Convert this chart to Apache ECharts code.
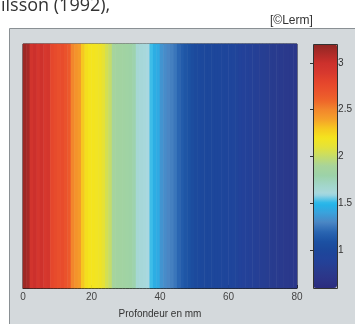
<!DOCTYPE html>
<html>
<head>
<meta charset="utf-8">
<script src="https://cdn.jsdelivr.net/npm/echarts@6/dist/echarts.min.js"></script>
<style>
  html, body { margin: 0; padding: 0; background: #fff; }
  #chart { width: 355px; height: 324px; }
</style>
</head>
<body>
<div id="chart"></div>
<script>
// value per 1 mm of depth (0 -> 79 mm)
var profile = [
    3.15, 3.12, 2.95, 3.0, 2.92, 2.98, 2.9, 2.93, 2.78, 2.75,
    2.72, 2.74, 2.7, 2.66, 2.5, 2.45, 2.42, 2.3, 2.22, 2.2,
    2.2, 2.18, 2.17, 2.12, 2.05, 2.0, 1.88, 1.86, 1.85, 1.84,
    1.83, 1.82, 1.78, 1.65, 1.63, 1.62, 1.6, 1.52, 1.46, 1.44,
    1.35, 1.32, 1.3, 1.28, 1.25, 1.2, 1.15, 1.12, 1.1, 1.05,
    1.03, 1.02, 1.01, 1.0, 1.0, 0.99, 0.98, 0.98, 0.97, 0.96,
    0.96, 0.95, 0.94, 0.9, 0.89, 0.88, 0.87, 0.86, 0.85, 0.84,
    0.83, 0.82, 0.8, 0.79, 0.78, 0.77, 0.76, 0.75, 0.74, 0.73
];
var depthBins = profile.map(function (v, i) { return String(i); });
var depthTicks = [0, 20, 40, 60, 80];
var barTicks = [1, 1.5, 2, 2.5, 3];
var barColors = [
    '#2b2c7e', '#2c3588', '#283c8f', '#22429a', '#1c479b', '#1c52a3',
    '#2a66b2', '#4a86c4', '#3aa2dc', '#22b6ea', '#a8d8e0', '#a2d6c8',
    '#9cd2a8', '#a8d49a', '#c4dc6a', '#e4e23a', '#f4e41e', '#f6c820',
    '#f5a02a', '#f2862c', '#ee642a', '#ea522c', '#e4442c', '#d6382e',
    '#cc302c', '#ad2b28', '#8e2622'
];

var chart = echarts.init(document.getElementById('chart'));

var option = {
    animation: false,
    backgroundColor: '#fff',
    graphic: [
        {type: 'rect', z: -10, shape: {x: 9.5, y: 28.5, width: 360, height: 310},
            style: {fill: '#d4d9dc', stroke: '#8a9094', lineWidth: 1}},
        {type: 'text', left: 1, top: -3,
            style: {text: 'ilsson (1992),', fill: '#333', font: '18px "Open Sans", sans-serif'}},
        {type: 'text', left: 270, top: 15,
            style: {text: '[©Lerm]', fill: '#333', font: '12px "Liberation Sans Narrow", "Liberation Sans", sans-serif'}},
        {type: 'rect', z: 100, shape: {x: 313.5, y: 44.5, width: 24, height: 244},
            style: {fill: 'none', stroke: '#333', lineWidth: 1}}
    ],
    grid: [
        {left: 23, top: 44, width: 274, height: 244, show: true,
            borderColor: '#222', borderWidth: 1, backgroundColor: 'transparent'},
        {left: 313, top: 44, width: 24, height: 244}
    ],
    xAxis: [
        {gridIndex: 0, type: 'category', data: depthBins, show: false, position: 'top'},
        {gridIndex: 0, type: 'value', min: 0, max: 80, position: 'bottom',
            name: 'Profondeur en mm', nameLocation: 'middle', nameGap: 21,
            nameTextStyle: {fontSize: 10, color: '#333', fontFamily: 'Liberation Sans'},
            axisLine: {show: true, lineStyle: {color: '#222'}},
            axisTick: {show: true, inside: true, length: 3, lineStyle: {color: '#222'},
                customValues: depthTicks},
            axisLabel: {fontSize: 10, color: '#444', margin: 4, fontFamily: 'Liberation Sans',
                customValues: depthTicks},
            splitLine: {show: false}},
        {gridIndex: 1, type: 'value', show: false, min: 0, max: 1}
    ],
    yAxis: [
        {gridIndex: 0, type: 'category', data: [''], show: false},
        {gridIndex: 1, type: 'value', min: 0.6, max: 3.2, position: 'right',
            axisLine: {show: false},
            axisTick: {show: true, inside: true, length: 3, lineStyle: {color: '#333'},
                customValues: barTicks},
            axisLabel: {fontSize: 10, color: '#333', margin: 4, fontFamily: 'Liberation Sans',
                customValues: barTicks},
            splitLine: {show: false}}
    ],
    visualMap: {
        type: 'continuous',
        seriesIndex: 0,
        min: 0.6,
        max: 3.2,
        calculable: false,
        hoverLink: false,
        left: 313,
        top: 44,
        padding: 0,
        itemWidth: 24,
        itemHeight: 244,
        text: null,
        inRange: {color: barColors}
    },
    series: [
        {
            type: 'heatmap',
            xAxisIndex: 0,
            yAxisIndex: 0,
            data: profile.map(function (v, i) { return [i, 0, v]; }),
            itemStyle: {borderWidth: 0},
            emphasis: {disabled: true}
        }
    ]
};

chart.setOption(option);
</script>
</body>
</html>
